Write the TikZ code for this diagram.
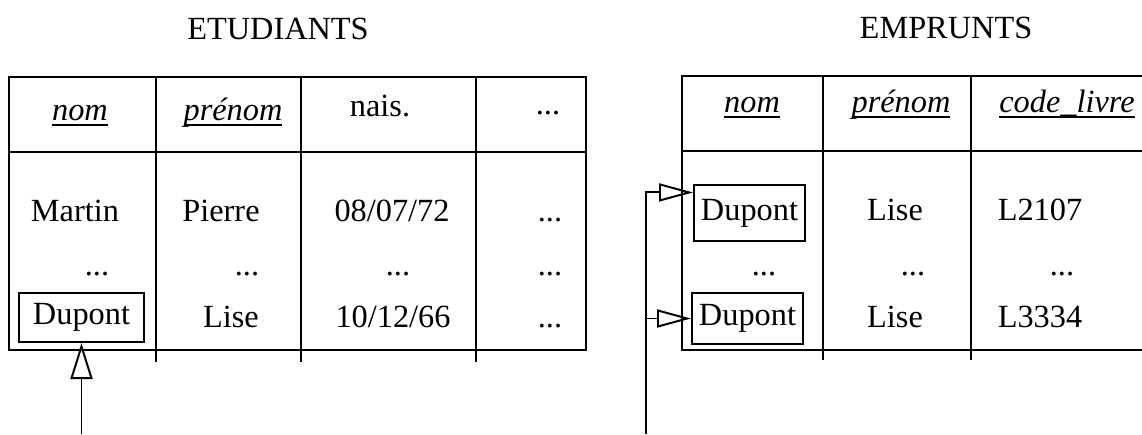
\documentclass[tikz,border=0pt]{standalone}
\usepackage{fontspec}
\setmainfont{Liberation Serif}
\usetikzlibrary{arrows.meta}

\newsavebox{\boitesoul}
\newcommand{\souligne}[1]{\sbox\boitesoul{#1}\rlap{\rule[-4pt]{\wd\boitesoul}{1.2pt}}\usebox\boitesoul}

\begin{document}
\begin{tikzpicture}[x=0.025cm, y=-0.025cm,
    grille/.style={line width=2pt},
    texte/.style={anchor=base, font=\fontsize{23}{27}\selectfont},
    entete/.style={anchor=base, font=\fontsize{23}{27}\selectfont\itshape},
    titre/.style={anchor=base, font=\fontsize{23}{27}\selectfont},
    cle/.style={draw, line width=1.4pt, inner sep=0pt, font=\fontsize{23}{27}\selectfont},
    lien/.style={line width=1.4pt, -{Triangle[open, length=0.9cm, width=0.55cm]}},
    lienpetit/.style={line width=1.4pt, -{Triangle[open, length=0.85cm, width=0.45cm]}}]

    % CADRE
    \path[use as bounding box, clip] (0,0) rectangle (1142,434);

    % TITRES
    \node[titre] (titre-etu) at (278,39) {ETUDIANTS};
    \node[titre] (titre-emp) at (946,38) {EMPRUNTS};

    % TABLE ETUDIANTS
    \draw[grille] (9,77) rectangle (586,350);
    \draw[grille] (9,152) -- (586,152);
    \foreach \x in {156,301,476}
        \draw[grille] (\x,77) -- (\x,362);

    \node[entete] (etu-nom) at (80,120) {\souligne{nom}};
    \node[entete] (etu-prenom) at (233,120) {\souligne{prénom}};
    \node[texte] (etu-nais) at (380,116) {nais.};
    \node[texte] (etu-autres) at (548,114) {...};

    \node[texte] (etu-martin) at (75,221) {Martin};
    \node[texte] (etu-pierre) at (221,221) {Pierre};
    \node[texte] (etu-date1) at (392,221) {08/07/72};
    \node[texte] (etu-suite1) at (550,221) {...};

    \node[texte] (etu-pts1) at (97,275) {...};
    \node[texte] (etu-pts2) at (247,275) {...};
    \node[texte] (etu-pts3) at (398,275) {...};
    \node[texte] (etu-suite2) at (550,275) {...};

    \node[cle, minimum width=3.125cm, minimum height=1.225cm] (etu-dupont) at (81.5,317.5) {Dupont};
    \node[texte] (etu-lise) at (231,327) {Lise};
    \node[texte] (etu-date2) at (393,327) {10/12/66};
    \node[texte] (etu-suite3) at (550,327) {...};

    % FLECHE ETUDIANTS
    \coordinate (etu-pied) at (81.5,434);
    \draw[lien] (etu-pied) -- (etu-dupont.south);

    % TABLE EMPRUNTS
    \draw[grille] (1200,76) -- (682,76) -- (682,350) -- (1200,350);
    \draw[grille] (682,151) -- (1200,151);
    \foreach \x in {823,971}
        \draw[grille] (\x,76) -- (\x,360);

    \node[entete] (emp-nom) at (752,112) {\souligne{nom}};
    \node[entete] (emp-prenom) at (901,112) {\souligne{prénom}};
    \node[entete] (emp-code) at (1067,112) {\souligne{code\_livre}};

    \node[cle, minimum width=2.775cm, minimum height=1.4cm] (emp-dupont1) at (749.5,213) {Dupont};
    \node[texte] (emp-lise1) at (895,220) {Lise};
    \node[texte] (emp-livre1) at (1040,220) {L2107};

    \node[texte] (emp-pts1) at (764,275) {...};
    \node[texte] (emp-pts2) at (913,275) {...};
    \node[texte] (emp-pts3) at (1062,275) {...};

    \node[cle, minimum width=2.775cm, minimum height=1.275cm] (emp-dupont2) at (747.5,318.5) {Dupont};
    \node[texte] (emp-lise2) at (895,327) {Lise};
    \node[texte] (emp-livre2) at (1040,327) {L3334};

    % FLECHES EMPRUNTS
    \coordinate (emp-pied) at (646,434);
    \draw[lienpetit] (emp-pied) |- (emp-dupont1.160);
    \draw[lienpetit] (emp-pied) |- (emp-dupont2.west);

\end{tikzpicture}
\end{document}
